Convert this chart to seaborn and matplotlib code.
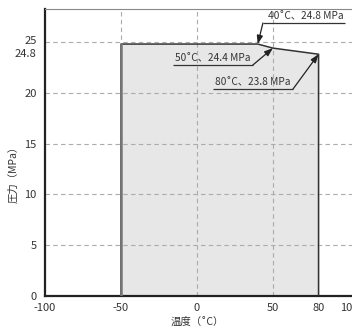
import numpy as np
import pandas as pd
import matplotlib
matplotlib.use("Agg")
import matplotlib.pyplot as plt
import matplotlib.transforms as mtransforms
import seaborn as sns

# データ（使用範囲の境界）
temp = [-50, -50, 40, 50, 80, 80]
pressure = [0, 24.8, 24.8, 24.4, 23.8, 0]

# 注記する点
note_temp = [40, 50, 80]
note_pressure = [24.8, 24.4, 23.8]
note_text = ["40˚C、24.8 MPa", "50˚C、24.4 MPa", "80˚C、23.8 MPa"]

# 目盛り
x_ticks = [-100, -50, 0, 50, 80, 100]
y_ticks = [0, 5, 10, 15, 20, 24.8, 25]
x_grid = [-50, 0, 50]
y_grid = [5, 10, 15, 20, 25]

sns.set_style("white")
plt.rcParams["font.family"] = ["Noto Sans CJK JP", "DejaVu Sans"]

fig = plt.figure(figsize=(3.52, 3.32), dpi=100)
ax = fig.add_axes([45 / 352, 36 / 332, 310 / 352, 287 / 332])

df = pd.DataFrame({"temp": temp, "pressure": pressure})

# 塗りつぶし
ax.fill_between(df["temp"], df["pressure"], color="#e7e7e7", zorder=1)

# グリッド（破線）
for gx in x_grid:
    ax.axvline(gx, color="#ababab", lw=0.8, ls=(0, (4, 3)), zorder=2)
for gy in y_grid:
    ax.axhline(gy, color="#ababab", lw=0.8, ls=(0, (4, 3)), zorder=2)

# 境界線
sns.lineplot(data=df, x="temp", y="pressure", sort=False, estimator=None,
             color="#333333", lw=1.1, ax=ax, zorder=3)
ax.plot(temp[:2], pressure[:2], color="#777777", lw=1.8, zorder=3)

# 注記（下線つき引出線）
layout = [
    # (下線の左端, 下線の右端, 折れ点x, 下線y, 文字x, 文字ha)
    (43.4, 97.4, 43.4, 26.87, 96.5, "right"),
    (-15.8, 36.8, 36.8, 22.74, -14.5, "left"),
    (10.5, 63.2, 63.2, 20.37, 11.8, "left"),
]
for (tx, ty, label), (x0, x1, ex, uy, lx, ha) in zip(
        zip(note_temp, note_pressure, note_text), layout):
    ax.plot([x0, x1], [uy, uy], color="#333333", lw=0.9, zorder=4,
            solid_capstyle="butt")
    ax.annotate("", xy=(tx, ty), xytext=(ex, uy),
                arrowprops=dict(arrowstyle="-|>,head_length=0.5,head_width=0.18",
                                color="#222222", lw=0.9, shrinkA=0, shrinkB=0),
                zorder=5)
    ax.text(lx, uy + 0.12, label, ha=ha, va="bottom", fontsize=7.3,
            color="#333333", zorder=5)

ax.set_xlim(-100, 104)
ax.set_ylim(0, 28.25)
ax.set_xticks(x_ticks)
ax.set_xticklabels([str(v) for v in x_ticks])
ax.set_yticks(y_ticks)
ax.set_yticklabels(["0", "5", "10", "15", "20", "24.8", "25"])
ax.tick_params(length=0, labelsize=8, labelcolor="#333333")
ax.tick_params(axis="x", pad=5)
ax.tick_params(axis="y", pad=6)

# 25 と 24.8 のラベルを上下にずらす
for lab in ax.get_yticklabels():
    if lab.get_text() == "24.8":
        lab.set_transform(lab.get_transform() + mtransforms.ScaledTranslation(
            0, -0.085, fig.dpi_scale_trans))
    elif lab.get_text() == "25":
        lab.set_transform(lab.get_transform() + mtransforms.ScaledTranslation(
            0, 0.02, fig.dpi_scale_trans))

ax.spines["left"].set_color("#222222")
ax.spines["left"].set_linewidth(1.6)
ax.spines["bottom"].set_color("#222222")
ax.spines["bottom"].set_linewidth(1.6)
ax.spines["top"].set_color("#888888")
ax.spines["top"].set_linewidth(0.8)
ax.spines["right"].set_visible(False)

ax.set_xlabel("温度（˚C）", fontsize=7.5, color="#333333")
ax.set_ylabel("圧力（MPa）", fontsize=7.5, color="#333333")
ax.xaxis.set_label_coords(100 / 204, -0.073)
ax.yaxis.set_label_coords(-0.085, 0.432)

fig.savefig("out.png", dpi=100)
